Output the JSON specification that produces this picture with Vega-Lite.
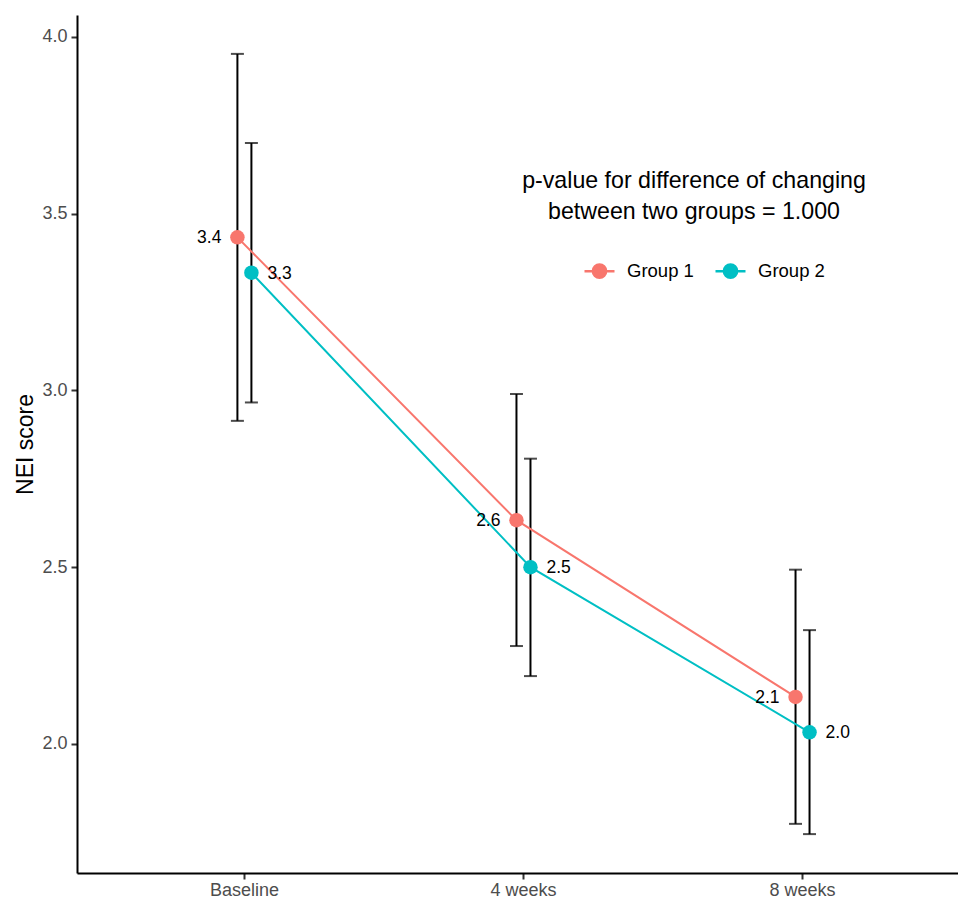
{
  "$schema": "https://vega.github.io/schema/vega-lite/v6.json",
  "autosize": {"type": "none"},
  "padding": {"left": 77, "top": 15, "right": 0, "bottom": 25},
  "width": 893,
  "height": 858,
  "background": "white",
  "config": {
    "font": "Liberation Sans",
    "view": {"stroke": null},
    "axis": {
      "domainColor": "black",
      "domainWidth": 2,
      "tickColor": "#333333",
      "tickWidth": 2,
      "tickSize": 6,
      "labelColor": "#4D4D4D",
      "labelFontSize": 18,
      "labelFont": "Liberation Sans",
      "titleFont": "Liberation Sans",
      "titleFontWeight": "normal",
      "titleColor": "black",
      "titleFontSize": 23,
      "grid": false
    }
  },
  "data": {
    "values": [
      {"time": "Baseline", "group": "Group 1", "mean": 3.433, "lo": 2.914, "hi": 3.952},
      {"time": "Baseline", "group": "Group 2", "mean": 3.333, "lo": 2.966, "hi": 3.700},
      {"time": "4 weeks", "group": "Group 1", "mean": 2.633, "lo": 2.277, "hi": 2.990},
      {"time": "4 weeks", "group": "Group 2", "mean": 2.500, "lo": 2.192, "hi": 2.807},
      {"time": "8 weeks", "group": "Group 1", "mean": 2.133, "lo": 1.774, "hi": 2.493},
      {"time": "8 weeks", "group": "Group 2", "mean": 2.033, "lo": 1.745, "hi": 2.322}
    ]
  },
  "encoding": {
    "x": {
      "field": "time",
      "type": "nominal",
      "sort": ["Baseline", "4 weeks", "8 weeks"],
      "scale": {"type": "band", "paddingInner": 0, "paddingOuter": 0.1},
      "axis": {"title": null, "labelAngle": 0, "labelPadding": 2}
    },
    "xOffset": {
      "field": "group",
      "type": "nominal",
      "scale": {"type": "band", "paddingInner": 0, "paddingOuter": 0, "range": [125.5, 153.5]}
    },
    "color": {
      "field": "group",
      "type": "nominal",
      "scale": {"domain": ["Group 1", "Group 2"], "range": ["#F8766D", "#00BFC4"]},
      "legend": {
        "title": ["p-value for difference of changing", "between two groups = 1.000"],
        "orient": "none",
        "legendX": 445,
        "legendY": 155,
        "direction": "horizontal",
        "titleFontSize": 23.2,
        "titleFontWeight": "normal",
        "titleColor": "black",
        "titleAnchor": "middle",
        "titleAlign": "center",
        "titleLimit": 1000,
        "titleLineHeight": 31,
        "titlePadding": 30,
        "labelFontSize": 18.5,
        "labelColor": "black",
        "labelOffset": 11,
        "columnPadding": 0,
        "symbolOffset": 20,
        "symbolType": "M-1,0L1,0M-0.44,0A0.44,0.44 0 1,0 0.44,0A0.44,0.44 0 1,0 -0.44,0Z",
        "symbolSize": 900,
        "symbolStrokeWidth": 2.5,
        "symbolOpacity": 1,
        "encode": {"symbols": {"update": {"stroke": {"scale": "color", "field": "value"}, "fill": {"scale": "color", "field": "value"}}}}
      }
    }
  },
  "layer": [
    {
      "mark": {"type": "rule", "color": "black", "strokeWidth": 2},
      "encoding": {
        "y": {"field": "lo", "type": "quantitative"},
        "y2": {"field": "hi"},
        "color": {"value": "black"}
      }
    },
    {
      "mark": {"type": "tick", "color": "black", "thickness": 2, "size": 13, "orient": "horizontal"},
      "encoding": {"y": {"field": "lo", "type": "quantitative"}, "color": {"value": "black"}}
    },
    {
      "mark": {"type": "tick", "color": "black", "thickness": 2, "size": 13, "orient": "horizontal"},
      "encoding": {"y": {"field": "hi", "type": "quantitative"}, "color": {"value": "black"}}
    },
    {
      "mark": {"type": "line", "strokeWidth": 2},
      "encoding": {
        "y": {"field": "mean", "type": "quantitative"}
      }
    },
    {
      "mark": {"type": "point", "filled": true, "opacity": 1, "size": 210},
      "encoding": {
        "y": {
          "field": "mean",
          "type": "quantitative",
          "title": "NEI score",
          "scale": {"domain": [1.635, 4.062], "nice": false, "zero": false},
          "axis": {"values": [2.0, 2.5, 3.0, 3.5, 4.0], "format": ".1f", "labelPadding": 4, "titlePadding": 4}
        }
      }
    },
    {
      "transform": [{"filter": "datum.group === 'Group 1'"}],
      "mark": {"type": "text", "align": "right", "dx": -16, "dy": 1, "fontSize": 17.5},
      "encoding": {
        "y": {"field": "mean", "type": "quantitative"},
        "text": {"field": "mean", "type": "quantitative", "format": ".1f"},
        "color": {"value": "black"}
      }
    },
    {
      "transform": [{"filter": "datum.group === 'Group 2'"}],
      "mark": {"type": "text", "align": "left", "dx": 16, "dy": 1, "fontSize": 17.5},
      "encoding": {
        "y": {"field": "mean", "type": "quantitative"},
        "text": {"field": "mean", "type": "quantitative", "format": ".1f"},
        "color": {"value": "black"}
      }
    }
  ]
}
